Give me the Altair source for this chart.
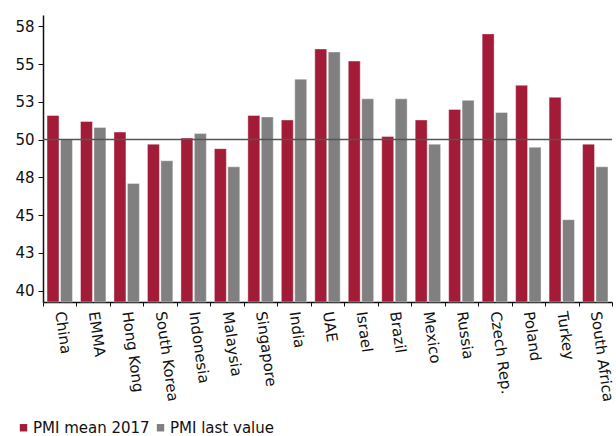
import altair as alt
import pandas as pd

countries = ["China", "EMMA", "Hong Kong", "South Korea", "Indonesia", "Malaysia",
             "Singapore", "India", "UAE", "Israel", "Brazil", "Mexico", "Russia",
             "Czech Rep.", "Poland", "Turkey", "South Africa"]
mean_2017 = [51.6, 51.2, 50.5, 49.7, 50.1, 49.4, 51.6, 51.3, 56.0, 55.2, 50.2,
             51.3, 52.0, 57.0, 53.6, 52.8, 49.7]
last_value = [50.0, 50.8, 47.1, 48.6, 50.4, 48.2, 51.5, 54.0, 55.8, 52.7, 52.7,
              49.7, 52.6, 51.8, 49.5, 44.7, 48.2]
series = ["PMI mean 2017", "PMI last value"]
y_ticks = [40, 42.5, 45, 47.5, 50, 52.5, 55, 57.5]
y_min, y_max = 39.25, 58.25
ref_level = 50

rows = []
for i, c in enumerate(countries):
    rows.append({"country": c, "series": series[0], "value": mean_2017[i]})
    rows.append({"country": c, "series": series[1], "value": last_value[i]})
df = pd.DataFrame(rows)

FONT = "DejaVu Sans"

bars = alt.Chart(df).mark_bar(stroke="white", strokeWidth=0.8, strokeOpacity=0.5).encode(
    x=alt.X("country:N", sort=countries, title=None,
            scale=alt.Scale(paddingInner=0, paddingOuter=0),
            axis=alt.Axis(labelAngle=82, labelAlign="left", labelBaseline="middle",
                          labelPadding=5, labelFontSize=15, labelFont=FONT,
                          labelColor="#111", tickBand="extent", tickSize=4,
                          domainColor="#111", tickColor="#111", domainWidth=1.5)),
    xOffset=alt.XOffset("series:N", sort=series,
                        scale=alt.Scale(paddingInner=0.11, paddingOuter=0.3)),
    y=alt.Y("value:Q", title=None,
            scale=alt.Scale(domain=[y_min, y_max], nice=False, zero=False),
            axis=alt.Axis(values=y_ticks, format=".0f", grid=False, labelFontSize=15,
                          labelFont=FONT, labelColor="#111", tickSize=5,
                          domainColor="#111", tickColor="#111", labelPadding=4,
                          domainWidth=1.5)),
    y2=alt.datum(y_min),
    color=alt.Color("series:N", sort=series,
                    scale=alt.Scale(domain=series, range=["#A31C37", "#808080"]),
                    legend=alt.Legend(title=None, orient="none", direction="horizontal",
                                      legendX=-27, legendY=405, symbolType="square",
                                      symbolSize=55, symbolStrokeWidth=0,
                                      labelFontSize=15, labelFont=FONT,
                                      labelColor="#111", columnPadding=3,
                                      labelOffset=2)),
)

rule = alt.Chart(pd.DataFrame({"y": [ref_level]})).mark_rule(
    color="#555555", strokeWidth=1.5).encode(y=alt.Y("y:Q"))

chart = alt.layer(bars, rule).properties(
    width=569, height=287,
    autosize=alt.AutoSizeParams(type="none"),
    padding={"left": 43, "top": 15, "right": 4, "bottom": 134},
).configure_view(stroke=None)

chart.save("out.html", embed_options={"renderer": "svg", "actions": False})
